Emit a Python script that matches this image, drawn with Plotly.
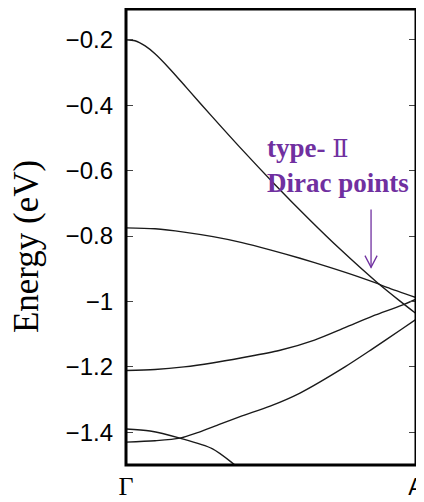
import plotly.graph_objects as go

# k-path positions (Γ = 0, A = 1) and band energies (eV)
band1_k = [0.000, 0.031, 0.066, 0.100, 0.152, 0.210, 0.297, 0.393, 0.514, 0.634, 0.738, 0.866, 0.945, 1.000]
band1_e = [-0.200, -0.203, -0.219, -0.243, -0.290, -0.348, -0.435, -0.529, -0.643, -0.751, -0.840, -0.942, -0.999, -1.037]

band2_k = [0.0, 0.1, 0.2, 0.3, 0.4, 0.5, 0.6, 0.7, 0.8, 0.866, 0.9, 1.0]
band2_e = [-0.775, -0.778, -0.788, -0.802, -0.820, -0.843, -0.868, -0.895, -0.924, -0.945, -0.957, -0.988]

band3_k = [0.0, 0.1, 0.2, 0.297, 0.4, 0.528, 0.65, 0.755, 0.85, 0.95, 1.0]
band3_e = [-1.211, -1.208, -1.200, -1.188, -1.172, -1.150, -1.118, -1.080, -1.045, -1.012, -0.993]

band4_k = [0.0, 0.1, 0.186, 0.25, 0.324, 0.4, 0.497, 0.6, 0.755, 0.85, 0.95, 1.0]
band4_e = [-1.430, -1.426, -1.418, -1.400, -1.375, -1.350, -1.320, -1.280, -1.200, -1.145, -1.085, -1.055]

band5_k = [0.0, 0.083, 0.186, 0.297, 0.376, 0.45]
band5_e = [-1.390, -1.396, -1.418, -1.450, -1.500, -1.553]

bands = [(band1_k, band1_e), (band2_k, band2_e), (band3_k, band3_e),
         (band4_k, band4_e), (band5_k, band5_e)]

x_tickvals = [0, 1]
x_ticktext = ['<span style="font-family:\'Liberation Serif\';font-size:26px">Γ</span>',
              '<span style="font-size:23px">A</span>']
y_tickvals = [-1.4, -1.2, -1.0, -0.8, -0.6, -0.4, -0.2]
y_range = [-1.5, -0.106]

# annotation (arrow) anchor in data coordinates
arrow_k = 0.845
arrow_top_e = -0.719
arrow_tip_e = -0.896
arrow_arm_dk = 0.021
arrow_arm_de = 0.036

purple = "#7030A0"

fig = go.Figure()
for k, e in bands:
    fig.add_trace(go.Scatter(x=k, y=e, mode="lines",
                             line=dict(color="#1a1a1a", width=1.4, shape="spline", smoothing=0.8),
                             showlegend=False, hoverinfo="skip"))

# the page body has an 8px default margin, so the figure is 8px smaller
fig.update_layout(
    width=416, height=494,
    margin=dict(l=118, r=8, t=1, b=37, autoexpand=False),
    plot_bgcolor="white", paper_bgcolor="white",
    xaxis=dict(range=[0, 1], tickvals=x_tickvals, ticktext=x_ticktext,
               showgrid=False, zeroline=False, showline=False, ticks="", automargin=False,
               tickfont=dict(family="Liberation Sans", size=24, color="black"),
               ticklabelstandoff=5, ticklabeloverflow="allow"),
    yaxis=dict(range=y_range, tickvals=y_tickvals, automargin=False,
               showgrid=False, zeroline=False, showline=False,
               mirror="ticks", ticks="inside", ticklen=7, tickwidth=1,
               tickcolor="#444",
               tickfont=dict(family="Liberation Sans", size=24, color="black"),
               ticklabelstandoff=12, ticklabeloverflow="allow"),
)

# plot frame
fig.add_shape(type="rect", xref="paper", yref="paper", x0=0, x1=1, y0=0, y1=1,
              line=dict(color="black", width=3), layer="above")

fig.add_annotation(text="Energy (eV)", xref="paper", yref="paper", x=-0.345, y=0.48,
                   xanchor="center", yanchor="middle", textangle=-90, showarrow=False,
                   font=dict(family="Liberation Serif", size=35, color="black"))

fig.add_annotation(text='type- <span style="font-family:\'DejaVu Serif\';font-weight:normal;font-size:24px">Ⅱ</span><br>Dirac points',
                   xref="x", yref="y", x=0.479, y=-0.48, xanchor="left", yanchor="top",
                   align="left", showarrow=False,
                   font=dict(family="Liberation Serif", size=27, color=purple, weight="bold"))

fig.add_shape(type="line", xref="x", yref="y", x0=arrow_k, x1=arrow_k,
              y0=arrow_top_e, y1=arrow_tip_e, line=dict(color=purple, width=1.3))
fig.add_shape(type="path", xref="x", yref="y",
              path=f"M {arrow_k - arrow_arm_dk},{arrow_tip_e + arrow_arm_de} L {arrow_k},{arrow_tip_e} L {arrow_k + arrow_arm_dk},{arrow_tip_e + arrow_arm_de}",
              line=dict(color=purple, width=1.3))

fig.write_html("out.html")
